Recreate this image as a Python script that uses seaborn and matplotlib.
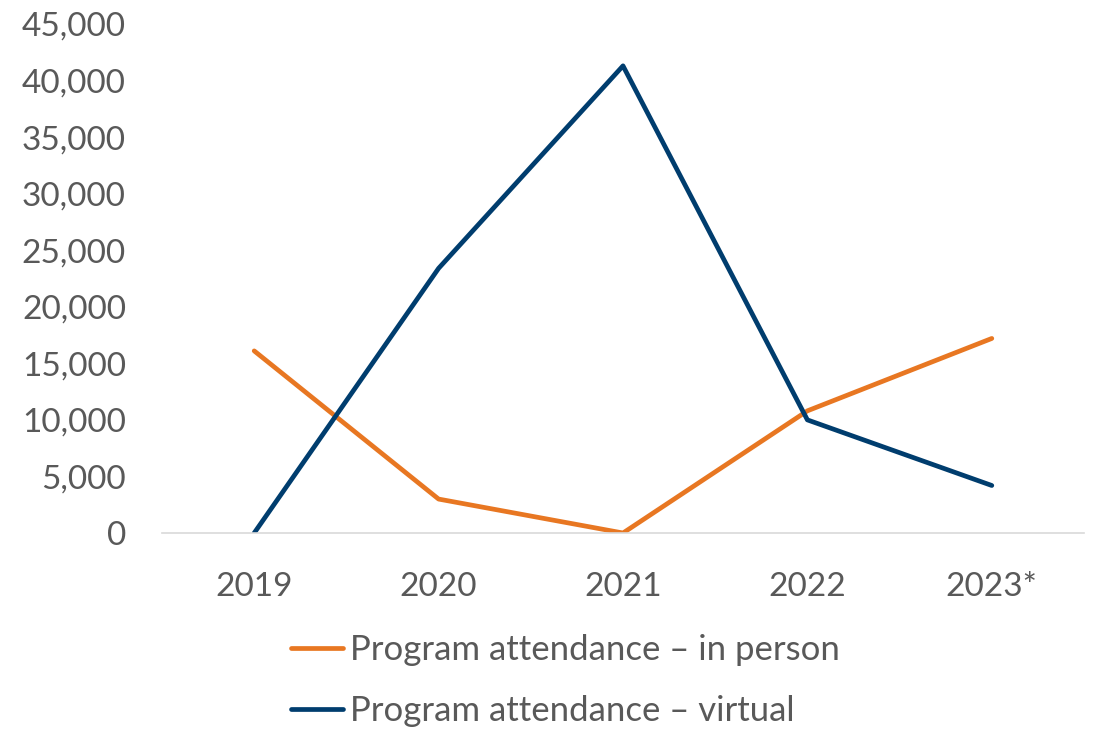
import matplotlib
matplotlib.use("Agg")
import matplotlib.pyplot as plt
import seaborn as sns
import pandas as pd
from matplotlib.ticker import FuncFormatter
from matplotlib.lines import Line2D

years = ["2019", "2020", "2021", "2022", "2023*"]
in_person = [16100, 3000, 0, 10800, 17200]
virtual = [0, 23400, 41300, 10000, 4200]
series_names = ["Program attendance \u2013 in person", "Program attendance \u2013 virtual"]
colors = ["#E87722", "#003D6E"]

df = pd.DataFrame({
    "year": years * 2,
    "pos": list(range(len(years))) * 2,
    "value": in_person + virtual,
    "series": [series_names[0]] * len(years) + [series_names[1]] * len(years),
})

sns.set_theme(style="white")
plt.rcParams["font.family"] = ["Lato", "DejaVu Sans"]

fig = plt.figure(figsize=(10.99, 7.29), dpi=100)
ax = fig.add_axes([162 / 1099, 1 - 533 / 729, (1084 - 162) / 1099, (533 - 24) / 729])

sns.lineplot(data=df, x="pos", y="value", hue="series", palette=colors,
             linewidth=3.4, ax=ax, legend=False, sort=False)

ax.set_xlim(-0.5, len(years) - 0.5)
ax.set_ylim(0, 45000)
ax.set_yticks(range(0, 45001, 5000))
ax.yaxis.set_major_formatter(FuncFormatter(lambda v, p: f"{int(v):,}"))
ax.set_xticks(range(len(years)))
ax.set_xticklabels(years)
ax.set_xlabel("")
ax.set_ylabel("")
for s in ["top", "right", "left"]:
    ax.spines[s].set_visible(False)
ax.spines["bottom"].set_color("#D9D9D9")
ax.spines["bottom"].set_linewidth(1.2)
ax.tick_params(axis="both", length=0, labelsize=24, labelcolor="#595959")
ax.tick_params(axis="y", pad=26)
ax.tick_params(axis="x", pad=28)

handles = [Line2D([0], [0], color=c, linewidth=3.4, solid_capstyle="round") for c in colors]
fig.legend(handles, series_names, loc="upper left", bbox_to_anchor=(291 / 1099, 1 - 634 / 729),
           frameon=False, fontsize=25, labelcolor="#595959", handlelength=1.5,
           handletextpad=0.2, labelspacing=0.84, borderpad=0, borderaxespad=0)

fig.savefig("out.png", dpi=100)
